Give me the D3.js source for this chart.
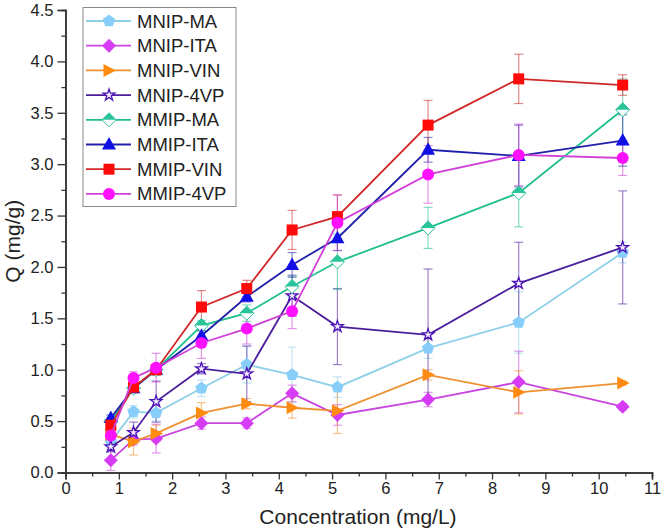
<!DOCTYPE html>
<html>
<head>
<meta charset="utf-8">
<script src="https://cdn.jsdelivr.net/npm/d3@7"></script>
<style>
  body { margin: 0; background: #fff; }
  svg { display: block; font-family: "Liberation Sans", Arial, sans-serif; }
</style>
</head>
<body>
<div id="chart"></div>
<script>
// concentration values (mg/L)
const conc = [0.85, 1.275, 1.7, 2.55, 3.4, 4.25, 5.1, 6.8, 8.5, 10.45];

// Q values (mg/g) and error bars for each material
const mnipMA = [0.30, 0.59, 0.58, 0.82, 1.05, 0.95, 0.83, 1.21, 1.46, 2.14];
const mnipMAErr = [0.05, 0.06, 0.08, 0.08, 0.18, 0.27, 0.10, 0.10, 0.30, 0.10];
const mnipITA = [0.12, 0.32, 0.33, 0.48, 0.48, 0.77, 0.56, 0.71, 0.88, 0.64];
const mnipITAErr = [0.10, 0.05, 0.14, 0.06, 0.05, 0.08, 0.10, 0.07, 0.30, 0.03];
const mnipVIN = [0.37, 0.30, 0.38, 0.58, 0.67, 0.63, 0.60, 0.95, 0.78, 0.87];
const mnipVINErr = [0.05, 0.13, 0.08, 0.10, 0.05, 0.10, 0.22, 0.05, 0.21, 0.02];
const mnip4VP = [0.25, 0.39, 0.69, 1.01, 0.96, 1.72, 1.42, 1.34, 1.84, 2.19];
const mnip4VPErr = [0.05, 0.10, 0.20, 0.05, 0.27, 0.20, 0.37, 0.64, 0.40, 0.55];
const mmipMA = [0.50, 0.82, 1.00, 1.43, 1.55, 1.81, 2.05, 2.38, 2.72, 3.53];
const mmipMAErr = [0.03, 0.05, 0.05, 0.05, 0.08, 0.10, 0.27, 0.20, 0.33, 0.30];
const mmipITA = [0.53, 0.82, 1.00, 1.33, 1.71, 2.02, 2.28, 3.14, 3.08, 3.23];
const mmipITAErr = [0.03, 0.04, 0.05, 0.05, 0.05, 0.12, 0.12, 0.12, 0.30, 0.25];
const mmipVIN = [0.46, 0.83, 1.00, 1.61, 1.79, 2.36, 2.49, 3.38, 3.83, 3.77];
const mmipVINErr = [0.03, 0.03, 0.05, 0.16, 0.08, 0.19, 0.21, 0.24, 0.24, 0.10];
const mmip4VP = [0.36, 0.92, 1.02, 1.26, 1.40, 1.57, 2.43, 2.90, 3.09, 3.06];
const mmip4VPErr = [0.04, 0.06, 0.14, 0.15, 0.15, 0.17, 0.27, 0.28, 0.30, 0.17];

const seriesNames = ["MNIP-MA", "MNIP-ITA", "MNIP-VIN", "MNIP-4VP", "MMIP-MA", "MMIP-ITA", "MMIP-VIN", "MMIP-4VP"];
const seriesValues = [mnipMA, mnipITA, mnipVIN, mnip4VP, mmipMA, mmipITA, mmipVIN, mmip4VP];
const seriesErrors = [mnipMAErr, mnipITAErr, mnipVINErr, mnip4VPErr, mmipMAErr, mmipITAErr, mmipVINErr, mmip4VPErr];

const xTicks = d3.range(0, 12, 1);
const yTicks = d3.range(0, 4.51, 0.5);

// styling per series
const styles = [
  {line: "#8fd0e8", fill: "#87cefa", stroke: "#87cefa", shape: "pentagon"},
  {line: "#c845e0", fill: "#d63cf5", stroke: "#c030e0", shape: "diamond"},
  {line: "#ee9030", fill: "#ff8c10", stroke: "#ff8c10", shape: "right"},
  {line: "#4a1d9c", fill: "#f4ecff", stroke: "#4a12b8", shape: "star"},
  {line: "#1fbf8f", fill: "#2ac49a", stroke: "#2ac49a", shape: "halfdiamond"},
  {line: "#2020aa", fill: "#1010e6", stroke: "#1010e6", shape: "triangle"},
  {line: "#d02828", fill: "#ff0a0a", stroke: "#ff0a0a", shape: "square"},
  {line: "#d040d8", fill: "#ff10ff", stroke: "#ff10ff", shape: "circle"}
];

const width = 661, height = 530;
const x = d3.scaleLinear().domain([0, 11]).range([65.5, 652]);
const y = d3.scaleLinear().domain([0, 4.5]).range([472.5, 10]);

const svg = d3.select("#chart").append("svg")
  .attr("width", width)
  .attr("height", height);

function pentagonPath(r) {
  const pts = d3.range(5).map(i => {
    const a = -Math.PI / 2 + i * 2 * Math.PI / 5;
    return [r * Math.cos(a), r * Math.sin(a)];
  });
  return "M" + pts.join("L") + "Z";
}

function drawMarker(g, st) {
  switch (st.shape) {
    case "pentagon":
      g.append("path").attr("d", pentagonPath(6.5)).attr("fill", st.fill);
      break;
    case "diamond":
      g.append("path").attr("d", "M0,-7L7,0L0,7L-7,0Z").attr("fill", st.fill);
      break;
    case "right":
      g.append("path").attr("d", "M-5.5,-6.5L7,0L-5.5,6.5Z").attr("fill", st.fill);
      break;
    case "star":
      g.append("path").attr("d", d3.symbol(d3.symbolStar, 42)())
        .attr("fill", st.fill).attr("stroke", st.stroke).attr("stroke-width", 1.3);
      break;
    case "halfdiamond":
      g.append("path").attr("d", "M0,-7L7,0L0,7L-7,0Z")
        .attr("fill", "#fff").attr("stroke", st.stroke).attr("stroke-width", 1);
      g.append("path").attr("d", "M0,-7L7,0L-7,0Z").attr("fill", st.fill);
      break;
    case "triangle":
      g.append("path").attr("d", "M0,-7.5L7,5L-7,5Z").attr("fill", st.fill);
      break;
    case "square":
      g.append("rect").attr("x", -5.5).attr("y", -5.5).attr("width", 11).attr("height", 11)
        .attr("fill", st.fill);
      break;
    case "circle":
      g.append("circle").attr("r", 6).attr("fill", st.fill);
      break;
  }
}

// axes
const axisColor = "#333";
const xAxis = svg.append("g").attr("transform", `translate(0,${y(0)})`)
  .call(d3.axisBottom(x).tickValues(xTicks).tickFormat(d3.format("d")).tickSize(7).tickPadding(3));
const xMinor = svg.append("g").attr("transform", `translate(0,${y(0)})`)
  .call(d3.axisBottom(x).tickValues(d3.range(0.5, 11, 1)).tickFormat("").tickSize(4));
const yAxis = svg.append("g").attr("transform", `translate(${x(0)},0)`)
  .call(d3.axisLeft(y).tickValues(yTicks).tickFormat(d3.format(".1f")).tickSize(8).tickPadding(4));
const yMinor = svg.append("g").attr("transform", `translate(${x(0)},0)`)
  .call(d3.axisLeft(y).tickValues(d3.range(0.25, 4.5, 0.5)).tickFormat("").tickSize(4));

[xAxis, xMinor, yAxis, yMinor].forEach(a => {
  a.select(".domain").attr("stroke", axisColor).attr("stroke-width", 1.5);
  a.selectAll(".tick line").attr("stroke", axisColor).attr("stroke-width", 1.3);
  a.selectAll(".tick text").attr("fill", "#222").attr("font-size", 16.5)
    .attr("font-family", "'Liberation Sans', Arial, sans-serif");
});

svg.append("text")
  .attr("x", 358).attr("y", 524)
  .attr("text-anchor", "middle")
  .attr("font-size", 21).attr("fill", "#222")
  .text("Concentration (mg/L)");

svg.append("text")
  .attr("transform", `translate(20,${y(2.25)}) rotate(-90)`)
  .attr("text-anchor", "middle")
  .attr("font-size", 21).attr("fill", "#222")
  .text("Q (mg/g)");

// error bars, lines, markers
const plot = svg.append("g");
const line = d3.line().x(d => x(d[0])).y(d => y(d[1]));

seriesNames.forEach((name, i) => {
  const st = styles[i];
  const pts = conc.map((c, j) => [c, seriesValues[i][j], seriesErrors[i][j]]);
  const eg = plot.append("g").attr("stroke", st.line).attr("stroke-opacity", 0.55).attr("stroke-width", 1.2);
  pts.forEach(p => {
    eg.append("line").attr("x1", x(p[0])).attr("x2", x(p[0]))
      .attr("y1", y(p[1] - p[2])).attr("y2", y(p[1] + p[2]));
    [p[1] - p[2], p[1] + p[2]].forEach(v => {
      eg.append("line").attr("x1", x(p[0]) - 4.5).attr("x2", x(p[0]) + 4.5)
        .attr("y1", y(v)).attr("y2", y(v));
    });
  });
});

seriesNames.forEach((name, i) => {
  const st = styles[i];
  const pts = conc.map((c, j) => [c, seriesValues[i][j]]);
  plot.append("path").datum(pts)
    .attr("d", line)
    .attr("fill", "none")
    .attr("stroke", st.line)
    .attr("stroke-width", 1.8);
  pts.forEach(p => {
    const g = plot.append("g").attr("transform", `translate(${x(p[0])},${y(p[1])})`);
    drawMarker(g, st);
  });
});

// legend
const legend = svg.append("g");
legend.append("rect")
  .attr("x", 83).attr("y", 7.5).attr("width", 153).attr("height", 199)
  .attr("fill", "#fff").attr("stroke", "#8a8a8a").attr("stroke-width", 1);

seriesNames.forEach((name, i) => {
  const st = styles[i];
  const ly = 21 + i * 24.7;
  const row = legend.append("g").attr("transform", `translate(0,${ly})`);
  row.append("line").attr("x1", 86).attr("x2", 131).attr("y1", 0).attr("y2", 0)
    .attr("stroke", st.line).attr("stroke-width", 1.8);
  drawMarker(row.append("g").attr("transform", "translate(109,0)"), st);
  row.append("text").attr("x", 137).attr("y", 6.5)
    .attr("font-size", 18.5).attr("fill", "#222")
    .text(name);
});
</script>
</body>
</html>
